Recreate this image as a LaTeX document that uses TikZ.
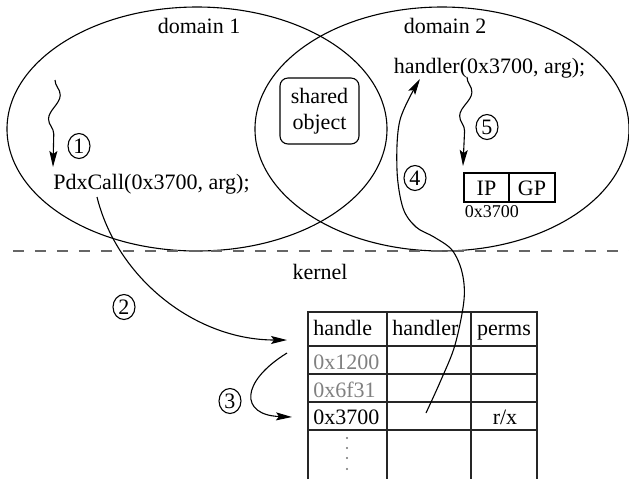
\documentclass[tikz,border=0pt]{standalone}
\usepackage{fontspec}
\setmainfont{Liberation Serif}
\usetikzlibrary{shapes.geometric,arrows.meta,decorations.pathmorphing}
\begin{document}
\begin{tikzpicture}[x=0.5pt,y=-0.5pt, font=\fontsize{11}{13}\selectfont,
  dom/.style={draw, ellipse, inner sep=0, line width=0.55pt},
  num/.style={draw, ellipse, inner sep=0, minimum width=11pt, minimum height=12.5pt, line width=0.55pt},
  arr/.style={line width=0.55pt, -{Stealth[length=8pt,width=4pt,inset=1.5pt]}},
  wig/.style={arr, decorate, decoration={snake, amplitude=2.8pt, segment length=24pt, post length=8pt}},
  lbl/.style={anchor=base, inner sep=0},
  lblw/.style={anchor=base west, inner sep=0},
  tab/.style={line width=0.6pt, draw=black!85},
  faded/.style={text=black!50}]
\useasboundingbox (0,0) rectangle (629,479);

% domains
\node[dom, minimum width=190pt, minimum height=122pt] (dom1) at (197,129) {};
\node[dom, minimum width=187pt, minimum height=122pt] (dom2) at (442,129) {};
\node[lbl] (d1) at (199,33) {domain 1};
\node[lbl] (d2) at (445,33) {domain 2};

\node[draw, rounded corners=4pt, minimum width=39.5pt, minimum height=33pt, inner sep=0, align=center, line width=0.55pt] (sh) at (319.5,111) {shared\\object};

% kernel boundary
\draw[black!60, line width=1pt, dash pattern=on 5.5pt off 5.5pt] (13,251) -- (629,251);
\node[lbl] (kern) at (320,279) {kernel};

% calls
\node[lbl] (pdx) at (151.5,189) {PdxCall(0x3700, arg);};
\node[lbl] (hdl) at (489.5,73) {handler(0x3700, arg);};

% IP GP
\node[draw, line width=0.55pt, minimum width=22.5pt, minimum height=14.5pt, inner sep=0] (ip) at (486.5,187.5) {};
\node[draw, line width=0.55pt, minimum width=23pt, minimum height=14.5pt, inner sep=0] (gp) at (532,187.5) {};
\node[lbl] at (486.5,195) {IP};
\node[lbl] at (532,195) {GP};
\node[lbl, font=\fontsize{9}{11}\selectfont] (ipaddr) at (492,217) {0x3700};

% table
\draw[tab] (308,479) -- (308,312) -- (537,312) -- (537,479);
\draw[tab] (387,312) -- (387,479);
\draw[tab] (471,312) -- (471,479);
\foreach \yy in {346,374,402,430} \draw[tab] (308,\yy) -- (537,\yy);
\node[lblw] (th1) at (313,335) {handle};
\node[lblw] (th2) at (392,335) {handler};
\node[lbl] (th3) at (504,335) {perms};
\node[lblw, faded] (r1) at (313,369) {0x1200};
\node[lblw, faded] (r2) at (313,397) {0x6f31};
\node[lblw] (r3) at (313,424) {0x3700};
\node[lbl] (r3p) at (505,424) {r/x};
\foreach \yy in {438,448,458,469} \fill[black!55] (347,\yy) circle (0.55pt);

% numbers
\node[num] (n1) at (79,146) {1};
\node[num] (n2) at (124,307) {2};
\node[num] (n3) at (230,401) {3};
\node[num] (n4) at (415,178) {4};
\node[num] (n5) at (487,127) {5};

% connectors
\coordinate (w1s) at (55,80);
\coordinate (w1e) at (53,167);
\draw[wig] (w1s) -- (w1e);
\coordinate (w5s) at (467,77);
\coordinate (w5e) at (463,166);
\draw[wig] (w5s) -- (w5e);

\coordinate (a2s) at (97,197);
\coordinate (a2e) at (287,340);
\draw[arr] (a2s) .. controls (117,278) and (195,340) .. (a2e);

\coordinate (a3s) at (287,353);
\coordinate (a3e) at (292,417);
\draw[arr] (a3s) .. controls (240,382) and (240,415) .. (a3e);

\coordinate (a4s) at (426,413);
\coordinate (a4e) at (420,79);
\draw[arr] plot[smooth, tension=0.55] coordinates {(a4s) (441,380) (455,345) (464,300) (462,272) (452,250) (434,237) (416,227) (403,208) (397,170) (400,120) (a4e)};
\end{tikzpicture}
\end{document}
